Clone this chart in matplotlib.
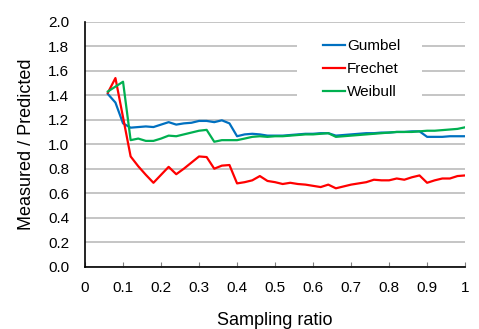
import matplotlib
matplotlib.use("Agg")
import matplotlib.pyplot as plt
from matplotlib.patches import Rectangle

plt.rcParams['font.family'] = ['Liberation Sans', 'DejaVu Sans']

# sampling ratio (x) and the three series
ratio = [0.06, 0.08, 0.10, 0.12, 0.14, 0.16, 0.18, 0.20, 0.22, 0.24,
         0.26, 0.28, 0.30, 0.32, 0.34, 0.36, 0.38, 0.40, 0.42, 0.44,
         0.46, 0.48, 0.50, 0.52, 0.54, 0.56, 0.58, 0.60, 0.62, 0.64,
         0.66, 0.68, 0.70, 0.72, 0.74, 0.76, 0.78, 0.80, 0.82, 0.84,
         0.86, 0.88, 0.90, 0.92, 0.94, 0.96, 0.98, 1.00]
gumbel = [1.41, 1.34, 1.17, 1.135, 1.14, 1.145, 1.14, 1.16, 1.18, 1.16,
          1.17, 1.175, 1.19, 1.19, 1.18, 1.195, 1.17, 1.065, 1.08, 1.085,
          1.08, 1.07, 1.07, 1.07, 1.075, 1.08, 1.085, 1.085, 1.09, 1.09,
          1.07, 1.075, 1.08, 1.085, 1.09, 1.09, 1.095, 1.095, 1.10, 1.10,
          1.105, 1.105, 1.06, 1.06, 1.06, 1.065, 1.065, 1.065]
frechet = [1.42, 1.54, 1.22, 0.90, 0.82, 0.75, 0.685, 0.75, 0.815, 0.755,
           0.80, 0.85, 0.90, 0.895, 0.80, 0.825, 0.83, 0.68, 0.69, 0.705,
           0.74, 0.70, 0.69, 0.675, 0.685, 0.675, 0.67, 0.66, 0.65, 0.67,
           0.64, 0.655, 0.67, 0.68, 0.69, 0.71, 0.705, 0.705, 0.72, 0.71,
           0.73, 0.745, 0.685, 0.705, 0.72, 0.72, 0.74, 0.745]
weibull = [1.43, 1.47, 1.51, 1.033, 1.046, 1.027, 1.027, 1.046, 1.07, 1.065,
           1.08, 1.095, 1.11, 1.117, 1.02, 1.033, 1.033, 1.033, 1.046, 1.06,
           1.065, 1.06, 1.065, 1.065, 1.07, 1.075, 1.08, 1.08, 1.085, 1.09,
           1.06, 1.065, 1.07, 1.075, 1.08, 1.085, 1.09, 1.095, 1.10, 1.10,
           1.10, 1.105, 1.11, 1.11, 1.115, 1.12, 1.125, 1.138]

xticks = [0, 0.1, 0.2, 0.3, 0.4, 0.5, 0.6, 0.7, 0.8, 0.9, 1]
xlabels = ['0', '0.1', '0.2', '0.3', '0.4', '0.5', '0.6', '0.7', '0.8', '0.9', '1']
yticks = [0.0, 0.2, 0.4, 0.6, 0.8, 1.0, 1.2, 1.4, 1.6, 1.8, 2.0]

fig = plt.figure(figsize=(4.79, 3.29), dpi=100)
ax = fig.add_axes([0.1775, 0.1894, 0.7935, 0.7446])

ax.plot(ratio, gumbel, color='#0070C0', lw=1.6, label='Gumbel', zorder=3)
ax.plot(ratio, frechet, color='#FF0000', lw=1.6, label='Frechet', zorder=3)
ax.plot(ratio, weibull, color='#00B050', lw=1.6, label='Weibull', zorder=3)

ax.set_xlim(0, 1)
ax.set_ylim(0, 2)
ax.set_xticks(xticks)
ax.set_xticklabels(xlabels)
ax.set_yticks(yticks)
ax.set_yticklabels(['%.1f' % v for v in yticks])
ax.tick_params(axis='x', direction='in', length=3.5, width=0.8, color='#808080',
               labelsize=11, pad=10.5)
ax.tick_params(axis='y', length=0, labelsize=11, pad=11.5)

ax.grid(axis='y', color='#c0c0c0', lw=1.3, zorder=0)
ax.set_axisbelow(True)
for s in ['top', 'right']:
    ax.spines[s].set_visible(False)
for s in ['left', 'bottom']:
    ax.spines[s].set_linewidth(1.2)

ax.set_xlabel('Sampling ratio', fontsize=13, labelpad=12)
ax.set_ylabel('Measured / Predicted', fontsize=13, labelpad=9)

# white box behind the legend hides the gridlines like the original
ax.add_patch(Rectangle((0.558, 0.68), 0.329, 0.27, transform=ax.transAxes,
                       facecolor='white', edgecolor='none', zorder=1))
ax.legend(loc='upper left', bbox_to_anchor=(0.605, 0.96), frameon=False,
          borderpad=0, fontsize=11, handlelength=1.45, handletextpad=0.15,
          labelspacing=0.6)

fig.savefig('out.png', dpi=100)
